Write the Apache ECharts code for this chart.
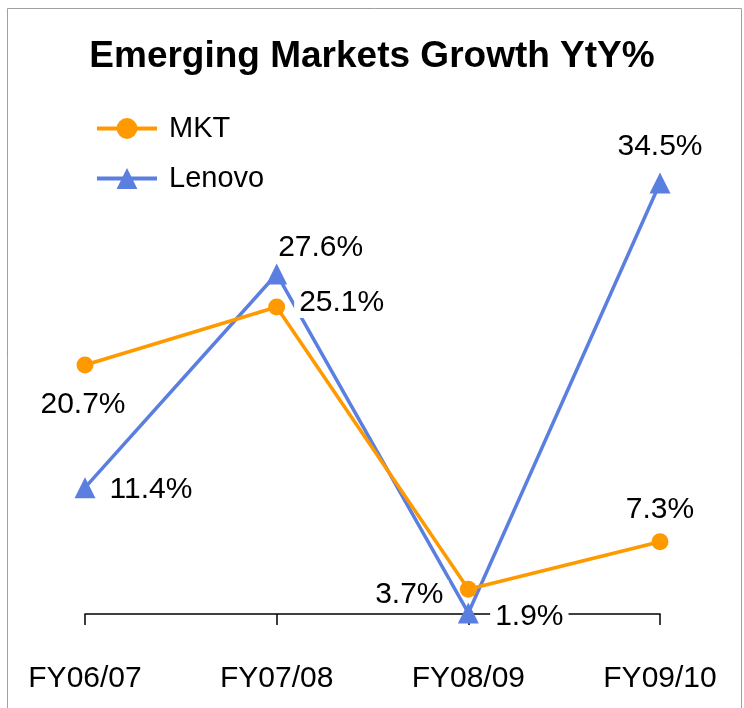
<!DOCTYPE html>
<html>
<head>
<meta charset="utf-8">
<script src="https://cdn.jsdelivr.net/npm/echarts@6/dist/echarts.min.js"></script>
<style>html,body{margin:0;padding:0;background:#fff}#c{width:744px;height:708px}</style>
</head>
<body>
<div id="c"></div>
<script>
var categories = ['FY06/07', 'FY07/08', 'FY08/09', 'FY09/10'];
var mktValues = [20.7, 25.1, 3.7, 7.3];
var lenovoValues = [11.4, 27.6, 1.9, 34.5];
var seriesNames = ['MKT', 'Lenovo'];

// label placement (style, not data)
var mktOffsets = [[-2, 40], [65, -4], [-59, 6], [0, -32]];
var lenovoOffsets = [[66, 2], [44, -26], [61, 4], [0, -36]];

var FONT = '"Liberation Sans", Arial, sans-serif';

function build(values, offsets) {
  return values.map(function (v, i) {
    return {
      value: v,
      label: { offset: offsets[i] }
    };
  });
}

var labelStyle = {
  show: true,
  position: 'inside',
  formatter: function (p) { return p.value.toFixed(1) + '%'; },
  fontFamily: FONT,
  fontSize: 30,
  color: '#000',
  lineHeight: 30,
  backgroundColor: '#fff',
  padding: [0, 5]
};

var chart = echarts.init(document.getElementById('c'), null, { renderer: 'canvas' });
chart.setOption({
  animation: false,
  backgroundColor: '#fff',
  graphic: [{
    type: 'rect',
    shape: { x: 7.5, y: 8.5, width: 734, height: 730 },
    style: { fill: 'none', stroke: '#a0a0a0', lineWidth: 1 },
    z: -10
  }],
  title: {
    text: 'Emerging Markets Growth YtY%',
    left: 'center',
    top: 38,
    padding: 0,
    textStyle: { fontFamily: FONT, fontSize: 37, fontWeight: 'bold', color: '#000' }
  },
  legend: {
    orient: 'vertical',
    left: 95,
    top: 114,
    itemWidth: 60,
    itemHeight: 26,
    itemGap: 21,
    padding: 0,
    lineStyle: { width: 4 },
    textStyle: { fontFamily: FONT, fontSize: 29, color: '#000', lineHeight: 28, padding: [0, 0, 0, 7] },
    data: seriesNames
  },
  grid: { left: 85, right: 84, top: 150, bottom: 94, containLabel: false },
  xAxis: {
    type: 'category',
    data: categories,
    boundaryGap: false,
    axisLine: { show: true, lineStyle: { color: '#000', width: 1.5 } },
    axisTick: { show: true, alignWithLabel: true, length: 11, lineStyle: { color: '#000', width: 1.5 } },
    axisLabel: { fontFamily: FONT, fontSize: 30, color: '#000', margin: 50 },
    splitLine: { show: false }
  },
  yAxis: {
    type: 'value',
    min: 1.82,
    max: 37.0,
    show: false,
    splitLine: { show: false }
  },
  series: [{
    name: seriesNames[0],
    type: 'line',
    data: build(mktValues, mktOffsets),
    symbol: 'circle',
    symbolSize: 17,
    clip: false,
    color: '#FF9900',
    lineStyle: { color: '#FF9900', width: 3.5 },
    itemStyle: { color: '#FF9900' },
    label: labelStyle,
    z: 4
  }, {
    name: seriesNames[1],
    type: 'line',
    data: build(lenovoValues, lenovoOffsets),
    symbol: 'triangle',
    symbolSize: 21,
    clip: false,
    color: '#5A7FE0',
    lineStyle: { color: '#5A7FE0', width: 3.5 },
    itemStyle: { color: '#5A7FE0' },
    label: labelStyle,
    z: 3
  }]
});
</script>
</body>
</html>
